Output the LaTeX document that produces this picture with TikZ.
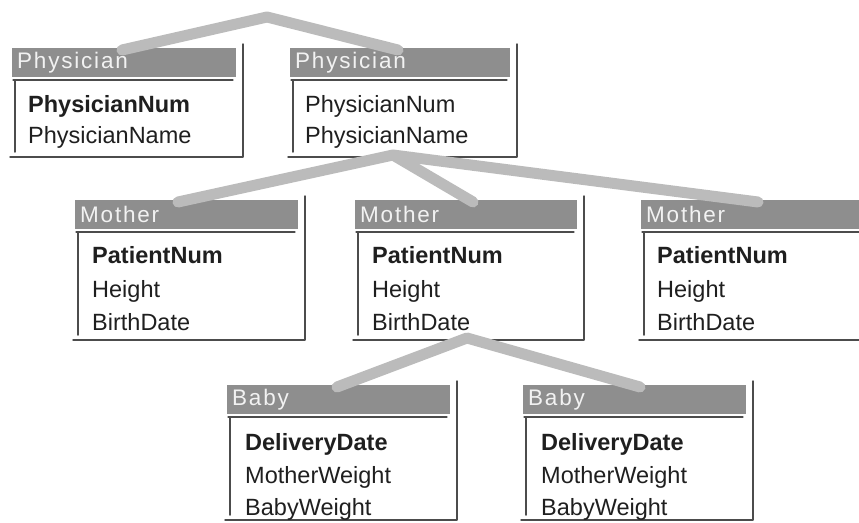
\documentclass[tikz,border=0pt]{standalone}
\usepackage{fontspec}
\setmainfont{Liberation Sans}
\newfontfamily\hdrfont[LetterSpace=8]{Liberation Sans}
\usetikzlibrary{calc}
\definecolor{hdrgray}{HTML}{8E8E8E}
\definecolor{linkgray}{HTML}{BBBBBB}
\definecolor{framegray}{HTML}{4C4C4C}

\begin{document}
\begin{tikzpicture}[x=1pt, y=-1pt, line cap=round, line join=round,
  hdr/.style={anchor=north west, fill=hdrgray, minimum height=29pt, inner xsep=5pt, inner ysep=0pt,
              align=left, text=white!90!gray, font=\hdrfont\fontsize{22.5}{22.5}\selectfont},
  row/.style={anchor=base west, inner sep=0pt, text=black!88, font=\fontsize{23.5}{23.5}\selectfont},
  key/.style={row, font=\fontsize{23.5}{23.5}\selectfont\bfseries},
  frame/.style={draw=framegray, line width=1.5pt},
  link/.style={draw=linkgray, line width=11pt}]

  %% ════ 表头（灰条）════
  \node[hdr, text width=214pt] (phys1) at (12,48)  {Physician};
  \node[hdr, text width=210pt] (phys2) at (290,48) {Physician};
  \node[hdr, text width=213pt] (mom1)  at (75,200)  {Mother};
  \node[hdr, text width=212pt] (mom2)  at (355,200) {Mother};
  \node[hdr, text width=229pt] (mom3)  at (641,200) {Mother};
  \node[hdr, text width=213pt] (baby1) at (227,385) {Baby};
  \node[hdr, text width=213pt] (baby2) at (523,385) {Baby};

  %% ════ 边框（右、下、左、上）════
  \draw[frame] (243,44) -- (243,157) -- (10,157);
  \draw[frame] (15,80) -- (15,152);
  \draw[frame, line width=1.2pt] (13,80) -- (233,80);
  \draw[frame] (517,44) -- (517,157) -- (288,157);
  \draw[frame] (293,80) -- (293,152);
  \draw[frame, line width=1.2pt] (291,80) -- (507,80);

  \draw[frame] (305,196) -- (305,340) -- (73,340);
  \draw[frame] (78,232) -- (78,335);
  \draw[frame, line width=1.2pt] (76,232) -- (295,232);
  \draw[frame] (584,196) -- (584,340) -- (353,340);
  \draw[frame] (358,232) -- (358,335);
  \draw[frame, line width=1.2pt] (356,232) -- (574,232);
  \draw[frame] (639,340) -- (870,340);
  \draw[frame] (644,232) -- (644,335);
  \draw[frame, line width=1.2pt] (642,232) -- (865,232);

  \draw[frame] (457,381) -- (457,520) -- (225,520);
  \draw[frame] (230,417) -- (230,515);
  \draw[frame, line width=1.2pt] (228,417) -- (447,417);
  \draw[frame] (753,381) -- (753,520) -- (521,520);
  \draw[frame] (526,417) -- (526,515);
  \draw[frame, line width=1.2pt] (524,417) -- (743,417);

  %% ════ 字段 ════
  \node[key] (phys1-a) at (28,112)  {PhysicianNum};
  \node[row] (phys1-b) at (28,143)  {PhysicianName};
  \node[row] (phys2-a) at (305,112) {PhysicianNum};
  \node[row] (phys2-b) at (305,143) {PhysicianName};

  \node[key] (mom1-a) at (92,263)  {PatientNum};
  \node[row] (mom1-b) at (92,297)  {Height};
  \node[row] (mom1-c) at (92,330)  {BirthDate};
  \node[key] (mom2-a) at (372,263) {PatientNum};
  \node[row] (mom2-b) at (372,297) {Height};
  \node[row] (mom2-c) at (372,330) {BirthDate};
  \node[key] (mom3-a) at (657,263) {PatientNum};
  \node[row] (mom3-b) at (657,297) {Height};
  \node[row] (mom3-c) at (657,330) {BirthDate};

  \node[key] (baby1-a) at (245,450) {DeliveryDate};
  \node[row] (baby1-b) at (245,483) {MotherWeight};
  \node[row] (baby1-c) at (245,515) {BabyWeight};
  \node[key] (baby2-a) at (541,450) {DeliveryDate};
  \node[row] (baby2-b) at (541,483) {MotherWeight};
  \node[row] (baby2-c) at (541,515) {BabyWeight};

  %% ════ 连线（灰色宽带）════
  \coordinate (top)  at (267,17);
  \coordinate (hub1) at ($(phys2.north west)+(103,107)$);
  \coordinate (hub2) at ($(mom2.north west)+(112,138)$);
  \draw[link] ($(phys1.north west)+(110,2)$) -- (top) -- ($(phys2.north west)+(108,2)$);
  \draw[link] ($(mom1.north west)+(103,2)$) -- (hub1) -- ($(mom2.north west)+(118,2)$);
  \draw[link] (hub1) -- ($(mom3.north west)+(117,2)$);
  \draw[link] ($(baby1.north west)+(110,2)$) -- (hub2) -- ($(baby2.north west)+(117,2)$);

  % 钉死画布
  \pgfresetboundingbox
  \path[use as bounding box] (0,0) rectangle (859,522);
\end{tikzpicture}
\end{document}
